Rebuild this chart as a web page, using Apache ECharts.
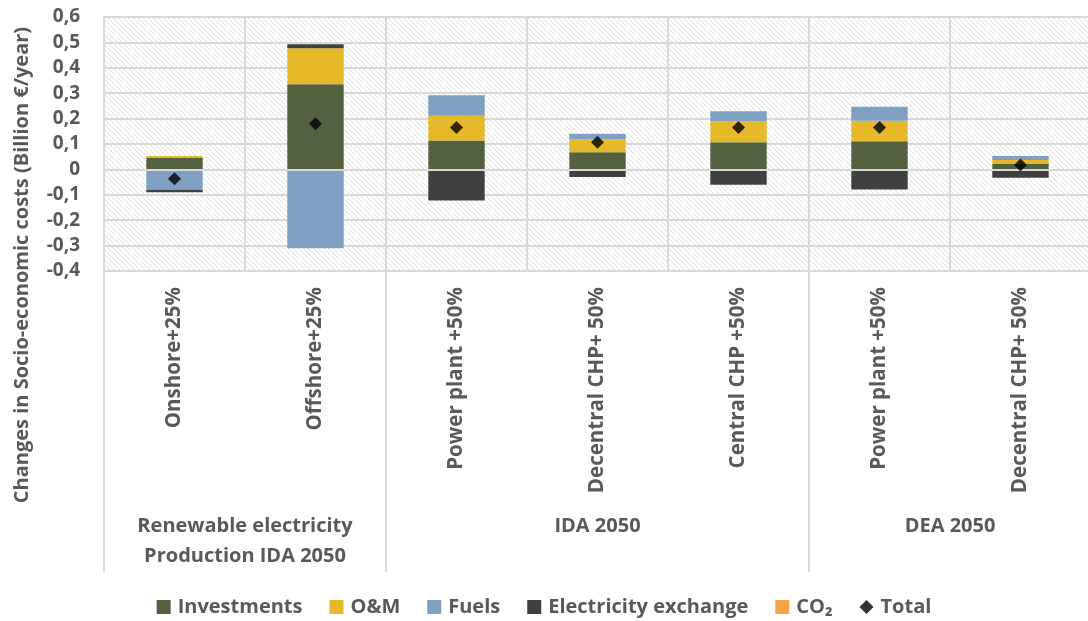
<!DOCTYPE html>
<html>
<head>
<meta charset="utf-8">
<script src="https://cdn.jsdelivr.net/npm/echarts@6/dist/echarts.min.js"></script>
<style>
html,body{margin:0;padding:0;background:#fff;}
#chart{width:1088px;height:621px;}
</style>
</head>
<body>
<div id="chart"></div>
<script>
// ---- data ----
const categories = ['Onshore+25%', 'Offshore+25%', 'Power plant +50%', 'Decentral CHP+ 50%', 'Central CHP +50%', 'Power plant +50%', 'Decentral CHP+ 50%'];
const groups = ['Renewable electricity\nProduction IDA 2050', 'IDA 2050', 'DEA 2050'];
const groupSizes = [2, 3, 2];
const investments = [0.045, 0.335, 0.114, 0.068, 0.107, 0.111, 0.021];
const oam = [0.008, 0.142, 0.097, 0.051, 0.083, 0.081, 0.016];
const fuels = [-0.080, -0.310, 0.081, 0.021, 0.039, 0.055, 0.016];
const elecExchange = [-0.010, 0.016, -0.122, -0.030, -0.060, -0.079, -0.033];
const co2 = [0, 0, 0, 0, 0, 0, 0];
const total = [-0.037, 0.180, 0.165, 0.107, 0.165, 0.165, 0.017];
const yTicks = { min: -0.4, max: 0.6, interval: 0.1 };

// unique category keys (duplicate names) for the axis
const catKeys = categories.map((c, i) => i + '|' + c);

const FONT = '"Open Sans"';
const GREY = '#595959';
const LINE = '#d9d9d9';

const pat = document.createElement('canvas');
pat.width = 5; pat.height = 5;
const pc = pat.getContext('2d');
pc.fillStyle = '#ffffff'; pc.fillRect(0, 0, 5, 5);
pc.strokeStyle = '#dedede'; pc.lineWidth = 1;
pc.beginPath();
pc.moveTo(-1, -1); pc.lineTo(6, 6);
pc.moveTo(-1, 4); pc.lineTo(2, 7);
pc.moveTo(4, -1); pc.lineTo(7, 2);
pc.stroke();

const chart = echarts.init(document.getElementById('chart'), null, { renderer: 'canvas' });

function bar(name, data, color) {
  return { name, type: 'bar', stack: 'cost', data, barWidth: '40%', itemStyle: { color }, emphasis: { disabled: true } };
}

chart.setOption({
  animation: false,
  textStyle: { fontFamily: FONT },
  grid: {
    left: 104, right: -3, top: 17, bottom: 350,
    show: true, backgroundColor: { image: pat, repeat: 'repeat' }, borderWidth: 0,
    outerBoundsMode: 'none'
  },
  legend: {
    top: 592, left: 'center',
    itemWidth: 14, itemHeight: 14, itemGap: 27,
    textStyle: { fontFamily: FONT, fontWeight: 'bold', fontSize: 20, color: GREY, padding: [0, 0, 0, 2] },
    data: [
      { name: 'Investments', icon: 'rect' },
      { name: 'O&M', icon: 'rect' },
      { name: 'Fuels', icon: 'rect' },
      { name: 'Electricity exchange', icon: 'rect' },
      { name: 'CO₂', icon: 'rect' },
      { name: 'Total', icon: 'diamond' }
    ]
  },
  xAxis: {
    type: 'category',
    data: catKeys,
    axisLine: { show: false },
    axisTick: { show: false },
    splitLine: { show: true, interval: 0, lineStyle: { color: LINE, width: 2 } },
    axisLabel: {
      interval: 0, rotate: 90, margin: 16,
      fontFamily: FONT, fontWeight: 'bold', fontSize: 20.5, color: GREY,
      formatter: v => v.split('|')[1]
    }
  },
  yAxis: {
    type: 'value',
    min: yTicks.min, max: yTicks.max, interval: yTicks.interval,
    axisLine: { show: true, lineStyle: { color: LINE, width: 2 } },
    axisTick: { show: false },
    splitLine: { show: true, lineStyle: { color: LINE, width: 2 } },
    axisLabel: {
      margin: 24, fontFamily: FONT, fontWeight: 'bold', fontSize: 19, color: GREY,
      formatter: v => (Math.abs(v) < 1e-9 ? '0' : v.toFixed(1).replace('.', ','))
    }
  },
  series: [
    bar('Investments', investments, '#536140'),
    bar('O&M', oam, '#e6b92a'),
    bar('Fuels', fuels, '#7f9fc3'),
    bar('Electricity exchange', elecExchange, '#404040'),
    bar('CO₂', co2, '#f4a646'),
    {
      name: 'Total', type: 'scatter', data: total, symbol: 'diamond', symbolSize: 13,
      itemStyle: { color: '#000000' }, z: 10,
      markLine: {
        silent: true, symbol: 'none', label: { show: false },
        lineStyle: { color: LINE, width: 2, type: 'solid' },
        data: [{ yAxis: 0 }]
      }
    }
  ]
});

// group labels and separators placed through the category scale
function drawGroups() {
  const centers = catKeys.map(k => chart.convertToPixel({ xAxisIndex: 0 }, k));
  const step = centers[1] - centers[0];
  const bounds = [centers[0] - step / 2];
  centers.forEach(c => bounds.push(c + step / 2));
  const yBottom = chart.convertToPixel({ yAxisIndex: 0 }, yTicks.min);
  const elements = [];
  let idx = 0;
  groups.forEach((g, gi) => {
    const x0 = bounds[idx];
    const x1 = bounds[idx + groupSizes[gi]];
    elements.push({
      type: 'line', silent: true,
      shape: { x1: x0, y1: yBottom, x2: x0, y2: 572 },
      style: { stroke: LINE, lineWidth: 2 }
    });
    elements.push({
      type: 'text', silent: true,
      x: (x0 + x1) / 2, y: 511,
      style: {
        text: g, align: 'center', verticalAlign: 'top',
        font: 'bold 20px ' + FONT, fill: GREY, lineHeight: 30
      }
    });
    idx += groupSizes[gi];
  });
  elements.push({
    type: 'text', silent: true,
    x: 22, y: 265, rotation: Math.PI / 2,
    style: {
      text: 'Changes in Socio-economic costs (Billion €/year)',
      align: 'center', verticalAlign: 'middle',
      font: 'bold 20px ' + FONT, fill: GREY
    }
  });
  chart.setOption({ graphic: elements });
}
drawGroups();
</script>
</body>
</html>
